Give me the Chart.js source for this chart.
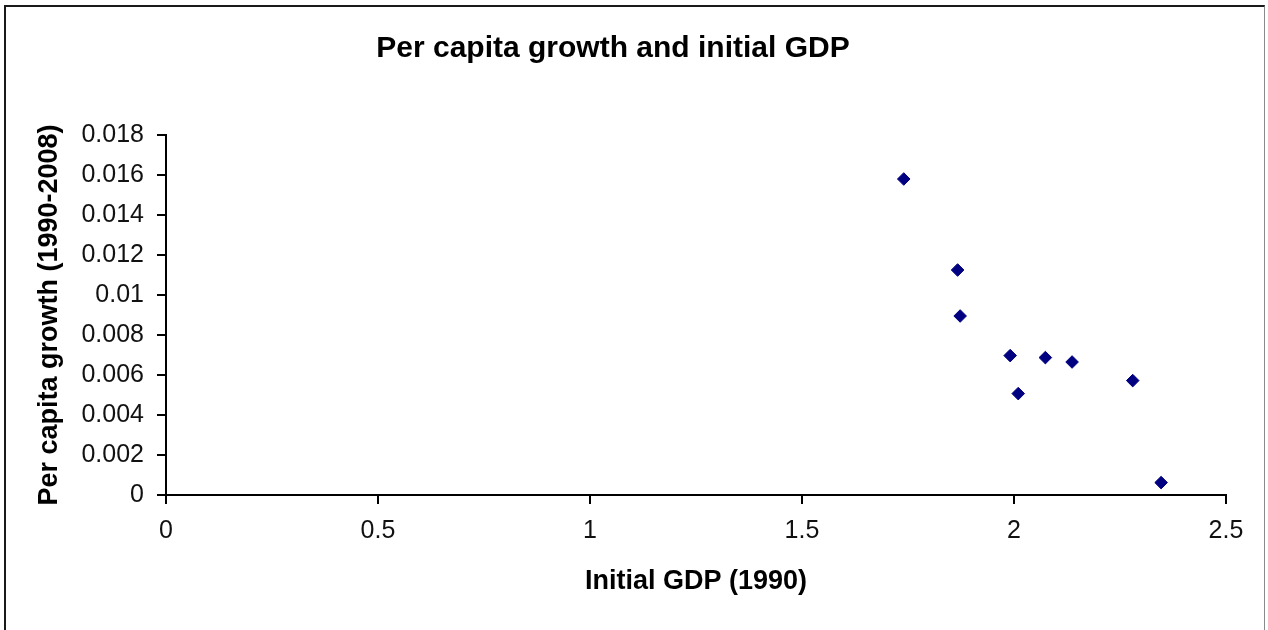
<!DOCTYPE html>
<html>
<head>
<meta charset="utf-8">
<title>Per capita growth and initial GDP</title>
<script src="https://cdn.jsdelivr.net/npm/chart.js@4/dist/chart.umd.min.js"></script>
<style>
  html, body { margin: 0; padding: 0; background: #fff; overflow: hidden; }
  #frame {
    position: absolute; left: 4px; top: 5px; width: 1261px; height: 640px;
    border-left: 2px solid #1a1a1a; border-top: 2px solid #1a1a1a; border-right: 1px solid #8a8a8a;
    box-sizing: border-box;
  }
  #wrap { position: absolute; left: 0; top: 0; width: 1268px; height: 630px; }
</style>
</head>
<body>
<div id="frame"></div>
<div id="wrap"><canvas id="chart" width="1268" height="630"></canvas></div>
<script>
// Initial GDP (1990) vs. per capita growth (1990-2008)
const initialGdp = [1.74, 1.867, 1.873, 1.991, 2.010, 2.074, 2.137, 2.280, 2.347];
const perCapitaGrowth = [0.0158, 0.01125, 0.00895, 0.00697, 0.00507, 0.00687, 0.00665, 0.00572, 0.00062];

const xTickValues = [0, 0.5, 1, 1.5, 2, 2.5];
const xTickLabels = ['0', '0.5', '1', '1.5', '2', '2.5'];
const yTickValues = [0, 0.002, 0.004, 0.006, 0.008, 0.01, 0.012, 0.014, 0.016, 0.018];
const yTickLabels = ['0', '0.002', '0.004', '0.006', '0.008', '0.01', '0.012', '0.014', '0.016', '0.018'];

const chartTitle = 'Per capita growth and initial GDP';
const xTitle = 'Initial GDP (1990)';
const yTitle = 'Per capita growth (1990-2008)';

const FONT = "'Liberation Sans', Arial, sans-serif";

const points = initialGdp.map((x, i) => ({ x: x, y: perCapitaGrowth[i] }));

new Chart(document.getElementById('chart'), {
  type: 'scatter',
  data: {
    datasets: [{
      data: points,
      pointStyle: 'rectRot',
      pointRadius: 6.3,
      pointHoverRadius: 6.3,
      backgroundColor: '#000080',
      borderColor: '#000080',
      borderWidth: 1
    }]
  },
  options: {
    responsive: false,
    animation: false,
    events: [],
    layout: { padding: { left: 0, right: 42, top: 0, bottom: 0 } },
    plugins: {
      legend: { display: false },
      tooltip: { enabled: false },
      title: {
        display: true,
        text: chartTitle,
        color: '#000',
        font: { family: FONT, size: 30, weight: 'bold' },
        padding: { top: 31, bottom: 68 }
      }
    },
    scales: {
      x: {
        type: 'linear',
        min: 0,
        max: 2.5,
        afterBuildTicks: s => { s.ticks = xTickValues.map(v => ({ value: v })); },
        afterFit: s => { s.height = 135; },
        border: { display: true, color: '#000', width: 2 },
        grid: { drawOnChartArea: false, drawTicks: true, tickLength: 9, color: '#000', lineWidth: 2 },
        ticks: {
          color: '#111',
          font: { family: FONT, size: 25 },
          padding: 12,
          maxRotation: 0,
          callback: (v, i) => xTickLabels[i]
        },
        title: {
          display: true,
          text: xTitle,
          color: '#000',
          font: { family: FONT, size: 27, weight: 'bold' },
          padding: { top: 0, bottom: 32 }
        }
      },
      y: {
        type: 'linear',
        min: 0,
        max: 0.018,
        afterBuildTicks: s => { s.ticks = yTickValues.map(v => ({ value: v })); },
        afterFit: s => { s.width = 166; },
        border: { display: true, color: '#000', width: 2 },
        grid: { drawOnChartArea: false, drawTicks: true, tickLength: 9, color: '#000', lineWidth: 2 },
        ticks: {
          color: '#111',
          font: { family: FONT, size: 25 },
          padding: 13,
          callback: (v, i) => yTickLabels[i]
        },
        title: {
          display: true,
          text: yTitle,
          color: '#000',
          font: { family: FONT, size: 27, weight: 'bold' },
          padding: { top: 33, bottom: 0 }
        }
      }
    }
  }
});
</script>
</body>
</html>
